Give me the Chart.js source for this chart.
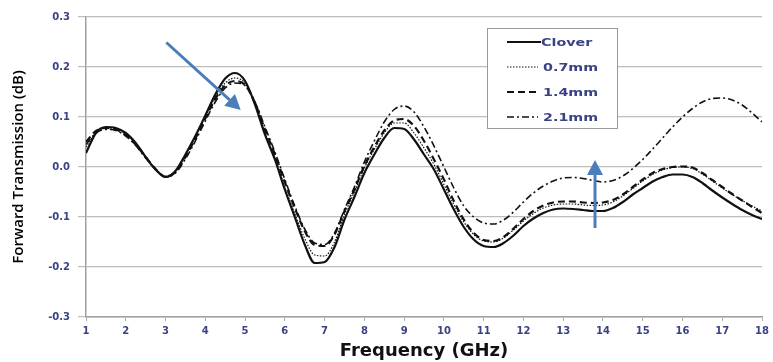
<!DOCTYPE html>
<html>
<head>
<meta charset="utf-8">
<script src="https://cdn.jsdelivr.net/npm/chart.js@4.4.1/dist/chart.umd.min.js"></script>
<style>
  html, body { margin: 0; padding: 0; background: #ffffff; }
  #wrap { width: 773px; height: 362px; position: relative; }
</style>
</head>
<body>
<div id="wrap"><canvas id="c" width="773" height="362"></canvas></div>
<script>
// ---- Data ----
const freqGHz = [
  1.00, 1.25, 1.50, 1.75, 2.00, 2.25, 2.50, 2.75, 3.00, 3.25, 3.50, 3.75,
  4.00, 4.25, 4.50, 4.75, 5.00, 5.25, 5.50, 5.75, 6.00, 6.25, 6.50, 6.75,
  7.00, 7.25, 7.50, 7.75, 8.00, 8.25, 8.50, 8.75, 9.00, 9.25, 9.50, 9.75,
  10.00, 10.25, 10.50, 10.75, 11.00, 11.25, 11.50, 11.75, 12.00, 12.25, 12.50, 12.75,
  13.00, 13.25, 13.50, 13.75, 14.00, 14.25, 14.50, 14.75, 15.00, 15.25, 15.50, 15.75,
  16.00, 16.25, 16.50, 16.75, 17.00, 17.25, 17.50, 17.75, 18.00
];

const clover = [
  0.028, 0.068, 0.080, 0.078,
  0.068, 0.048, 0.020, -0.005,
  -0.020, -0.008, 0.025, 0.062,
  0.103, 0.145, 0.177, 0.188,
  0.172, 0.125, 0.065, 0.015,
  -0.045, -0.100, -0.155, -0.192,
  -0.190, -0.160, -0.105, -0.060,
  -0.012, 0.025, 0.058, 0.078,
  0.076, 0.055, 0.025, -0.005,
  -0.045, -0.085, -0.120, -0.145,
  -0.158, -0.160, -0.152, -0.137,
  -0.118, -0.103, -0.092, -0.085,
  -0.083, -0.084, -0.086, -0.088,
  -0.088, -0.082, -0.070, -0.055,
  -0.042, -0.029, -0.020, -0.015,
  -0.015, -0.020, -0.032, -0.047,
  -0.061, -0.074, -0.086, -0.096,
  -0.104
];

const mm07 = [
  0.040, 0.068, 0.078, 0.076,
  0.066, 0.047, 0.020, -0.004,
  -0.018, -0.008, 0.024, 0.060,
  0.100, 0.140, 0.168, 0.178,
  0.167, 0.125, 0.068, 0.018,
  -0.040, -0.093, -0.143, -0.176,
  -0.178, -0.150, -0.095, -0.050,
  -0.002, 0.035, 0.068, 0.088,
  0.088, 0.068, 0.038, 0.005,
  -0.035, -0.075, -0.110, -0.135,
  -0.148, -0.150, -0.142, -0.126,
  -0.108, -0.093, -0.082, -0.076,
  -0.074, -0.074, -0.076, -0.077,
  -0.076, -0.070, -0.058, -0.043,
  -0.028, -0.015, -0.006, -0.001,
  0.000, -0.003, -0.014, -0.028,
  -0.042, -0.055, -0.067, -0.078,
  -0.088
];

const mm14 = [
  0.050, 0.072, 0.078, 0.075,
  0.064, 0.045, 0.020, -0.004,
  -0.020, -0.010, 0.020, 0.057,
  0.097, 0.136, 0.163, 0.172,
  0.164, 0.128, 0.075, 0.025,
  -0.030, -0.082, -0.128, -0.156,
  -0.158, -0.135, -0.088, -0.045,
  0.002, 0.040, 0.073, 0.093,
  0.096, 0.082, 0.052, 0.015,
  -0.025, -0.068, -0.105, -0.132,
  -0.146, -0.148, -0.140, -0.123,
  -0.104, -0.088, -0.077, -0.071,
  -0.069, -0.069, -0.071, -0.072,
  -0.071, -0.066, -0.055, -0.040,
  -0.025, -0.012, -0.004, 0.000,
  0.001, -0.001, -0.012, -0.026,
  -0.040, -0.054, -0.067, -0.080,
  -0.092
];

const mm21 = [
  0.045, 0.068, 0.075, 0.073,
  0.062, 0.043, 0.018, -0.005,
  -0.020, -0.012, 0.016, 0.052,
  0.092, 0.130, 0.158, 0.168,
  0.163, 0.130, 0.080, 0.030,
  -0.025, -0.078, -0.124, -0.152,
  -0.155, -0.132, -0.085, -0.040,
  0.010, 0.052, 0.090, 0.115,
  0.122, 0.110, 0.080, 0.042,
  0.000, -0.042, -0.078, -0.100,
  -0.112, -0.114, -0.106, -0.090,
  -0.070, -0.052, -0.038, -0.028,
  -0.022, -0.021, -0.023, -0.027,
  -0.030, -0.027, -0.018, -0.003,
  0.015, 0.036, 0.058, 0.080,
  0.100, 0.117, 0.130, 0.137,
  0.138, 0.134, 0.124, 0.108,
  0.090
];

const seriesNames = ["Clover", "0.7mm", "1.4mm", "2.1mm"];
const xTickValues = [1, 2, 3, 4, 5, 6, 7, 8, 9, 10, 11, 12, 13, 14, 15, 16, 17, 18];
const yTickValues = [-0.3, -0.2, -0.1, 0.0, 0.1, 0.2, 0.3];
const xTitle = "Frequency (GHz)";
const yTitle = "Forward Transmission (dB)";

// annotation arrows, in data units [GHz, dB]
const arrowFrom = [[3.02, 0.249], [13.8, -0.122]];
const arrowTo   = [[4.89, 0.114], [13.8, 0.014]];

// ---- Build chart ----
function toXY(arr) { return freqGHz.map((f, i) => ({ x: f, y: arr[i] })); }

const styles = [
  { borderWidth: 2.2, borderDash: [] },
  { borderWidth: 1.2, borderDash: [1.5, 1.5] },
  { borderWidth: 2.2, borderDash: [7, 4] },
  { borderWidth: 1.6, borderDash: [7, 3, 2, 3] }
];
const seriesValues = [clover, mm07, mm14, mm21];

const datasets = seriesValues.map((vals, k) => ({
  label: seriesNames[k],
  data: toXY(vals),
  borderColor: '#111111',
  backgroundColor: '#111111',
  borderWidth: styles[k].borderWidth,
  borderDash: styles[k].borderDash,
  pointRadius: 0,
  fill: false,
  cubicInterpolationMode: 'monotone'
}));

const TEXT_COL = '#3a4284';

const boxLegend = {
  id: 'boxLegend',
  afterDatasetsDraw(chart) {
    const ctx = chart.ctx;
    // arrows
    const xs = chart.scales.x, ys = chart.scales.y;
    ctx.save();
    ctx.strokeStyle = '#4a7ebb';
    ctx.fillStyle = '#4a7ebb';
    ctx.lineWidth = 3;
    ctx.setLineDash([]);
    for (let i = 0; i < arrowFrom.length; i++) {
      const x0 = xs.getPixelForValue(arrowFrom[i][0]);
      const y0 = ys.getPixelForValue(arrowFrom[i][1]);
      const x1 = xs.getPixelForValue(arrowTo[i][0]);
      const y1 = ys.getPixelForValue(arrowTo[i][1]);
      const ang = Math.atan2(y1 - y0, x1 - x0);
      const hl = 15, hw = 8;
      const bx = x1 - hl * Math.cos(ang), by = y1 - hl * Math.sin(ang);
      ctx.beginPath();
      ctx.moveTo(x0, y0);
      ctx.lineTo(bx, by);
      ctx.stroke();
      ctx.beginPath();
      ctx.moveTo(x1, y1);
      ctx.lineTo(bx + hw * Math.sin(ang), by - hw * Math.cos(ang));
      ctx.lineTo(bx - hw * Math.sin(ang), by + hw * Math.cos(ang));
      ctx.closePath();
      ctx.fill();
    }
    ctx.restore();

    // legend box
    const bx = 487, by = 28, bw = 130, bh = 100;
    ctx.save();
    ctx.fillStyle = '#ffffff';
    ctx.fillRect(bx, by, bw, bh);
    ctx.strokeStyle = '#9a9a9a';
    ctx.lineWidth = 1;
    ctx.strokeRect(bx + 0.5, by + 0.5, bw, bh);
    chart.data.datasets.forEach((ds, i) => {
      const y = 42 + i * 25;
      ctx.strokeStyle = ds.borderColor;
      ctx.lineWidth = ds.borderWidth;
      ctx.setLineDash(ds.borderDash || []);
      ctx.beginPath();
      ctx.moveTo(507, y);
      ctx.lineTo(i === 0 ? 541 : 538, y);
      ctx.stroke();
      ctx.setLineDash([]);
      ctx.save();
      ctx.translate(i === 0 ? 541 : 543, y);
      ctx.scale(1.3, 1);
      ctx.fillStyle = TEXT_COL;
      ctx.font = 'bold 11px "DejaVu Sans", sans-serif';
      ctx.textBaseline = 'middle';
      ctx.fillText(ds.label, 0, 1);
      ctx.restore();
    });
    ctx.restore();
  }
};

new Chart(document.getElementById('c'), {
  type: 'line',
  data: { datasets },
  options: {
    responsive: false,
    animation: false,
    events: [],
    layout: { padding: { top: 17, right: 7, bottom: 0, left: 0 } },
    plugins: { legend: { display: false }, tooltip: { enabled: false } },
    scales: {
      x: {
        type: 'linear',
        min: 1, max: 18,
        afterFit(scale) { scale.height = 45; },
        afterBuildTicks(scale) { scale.ticks = xTickValues.map(v => ({ value: v })); },
        ticks: {
          color: TEXT_COL,
          font: { family: '"DejaVu Sans", sans-serif', size: 10, weight: 'bold' },
          padding: 4,
          maxRotation: 0,
          callback: v => String(v)
        },
        grid: { drawOnChartArea: false, color: '#b0b0b0', tickLength: 4 },
        border: { color: '#a0a0a0', width: 1.5 },
        title: {
          display: true, text: xTitle, color: '#111111',
          font: { family: '"DejaVu Sans", sans-serif', size: 18, weight: 'bold' },
          padding: { top: 0, bottom: 0 }
        }
      },
      y: {
        type: 'linear',
        min: -0.3, max: 0.3,
        afterFit(scale) { scale.width = 86; },
        afterBuildTicks(scale) { scale.ticks = yTickValues.map(v => ({ value: v })); },
        ticks: {
          color: TEXT_COL,
          font: { family: '"DejaVu Sans", sans-serif', size: 10, weight: 'bold' },
          padding: 8,
          callback: v => { const r = Math.round(v * 10) / 10; return (r === 0 ? 0 : r).toFixed(1); }
        },
        grid: { color: '#bdbdbd', tickLength: 8, lineWidth: 1.2 },
        border: { color: '#a0a0a0', width: 1.5 },
        title: {
          display: true, text: yTitle, color: '#000000',
          font: { family: '"Open Sans", sans-serif', size: 15, weight: '600' },
          padding: { top: 10, bottom: 0 }
        }
      }
    }
  },
  plugins: [boxLegend]
});
</script>
</body>
</html>
